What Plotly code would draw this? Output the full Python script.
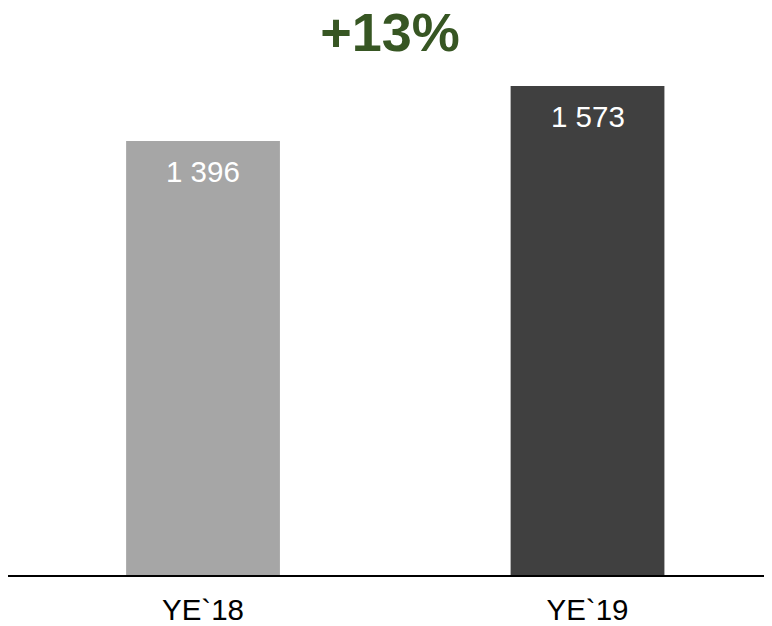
import plotly.graph_objects as go

categories = ["YE`18", "YE`19"]
values = [1396, 1573]
value_labels = ["1 396", "1 573"]
bar_colors = ["#A6A6A6", "#404040"]
growth_label = "+13%"

fig = go.Figure()
fig.add_trace(go.Bar(
    x=categories, y=values, marker=dict(color=bar_colors, line=dict(width=0)),
    width=0.4, showlegend=False, hoverinfo="skip",
))

for c, v, t in zip(categories, values, value_labels):
    fig.add_annotation(x=c, y=v, text=t, showarrow=False, yanchor="top", yshift=-12,
                       font=dict(family="Liberation Sans, Arial", size=29.5, color="white"))

fig.update_layout(
    width=764, height=618,
    margin=dict(l=0, r=0, t=0, b=48),
    paper_bgcolor="white", plot_bgcolor="white",
    title=dict(text=growth_label, x=0.5, xanchor="center", y=0.961, yanchor="middle",
               yref="container",
               font=dict(family="Liberation Sans, Arial", size=54, color="#375623", weight="bold")),
    xaxis=dict(range=[-0.5072, 1.4798], showline=True, linecolor="black", linewidth=2,
               showgrid=False, zeroline=False, ticks="", ticklabelstandoff=8,
               tickfont=dict(family="Liberation Sans, Arial", size=29.5, color="black")),
    yaxis=dict(range=[0, 1824], visible=False, showgrid=False, zeroline=False),
)

fig.write_html("out.html")
